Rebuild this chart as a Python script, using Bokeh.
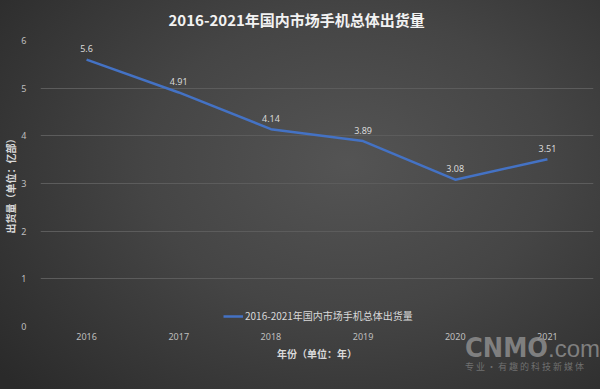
from bokeh.plotting import figure
from bokeh.models import (FactorRange, Range1d, ColumnDataSource, LabelSet,
                          Legend, LegendItem)
from bokeh.embed import file_html
from bokeh.resources import INLINE
from bokeh.core.properties import value

# ---- data ----
years = ["2016", "2017", "2018", "2019", "2020", "2021"]
shipments = [5.6, 4.91, 4.14, 3.89, 3.08, 3.51]
value_labels = ["5.6", "4.91", "4.14", "3.89", "3.08", "3.51"]
y_ticks = [0, 1, 2, 3, 4, 5, 6]
title_text = "2016-2021年国内市场手机总体出货量"
series_name = "2016-2021年国内市场手机总体出货量"
x_label = "年份（单位：年）"
y_label = "出货量（单位：亿部）"
wm_main = "CNMO"
wm_dom = ".com"
wm_sub = "专业·有趣的科技新媒体"

CJK = "Noto Sans CJK SC"
LAT = "Noto Sans"

src = ColumnDataSource(dict(year=years, value=shipments, label=value_labels))

p = figure(width=600, height=389,
           x_range=FactorRange(*years, range_padding=0),
           y_range=Range1d(0, 6),
           output_backend="svg", toolbar_location=None,
           min_border_left=38, min_border_right=7,
           min_border_top=39, min_border_bottom=63)

p.background_fill_alpha = 0
p.border_fill_alpha = 0
p.outline_line_color = None

# title
p.title.text = title_text
p.title.text_font = CJK
p.title.text_font_size = "15px"
p.title.text_font_style = "bold"
p.title.text_color = "#f2f2f2"
p.title.align = "left"
p.title.vertical_align = "top"
p.title.offset = 128
p.title.standoff = 17

# axes
p.yaxis.ticker = y_ticks
for ax in (p.xaxis[0], p.yaxis[0]):
    ax.axis_line_color = None
    ax.major_tick_line_color = None
    ax.minor_tick_line_color = None
    ax.major_label_text_font = LAT
    ax.major_label_text_font_size = "9px"
    ax.major_label_text_color = "#bfbfbf"
    ax.axis_label_text_font = CJK
    ax.axis_label_text_font_size = "10px"
    ax.axis_label_text_font_style = "bold"
    ax.axis_label_text_color = "#d9d9d9"
p.xaxis.major_label_standoff = 0
p.xaxis.axis_label_standoff = 3
p.yaxis.major_label_standoff = 8
p.yaxis.axis_label_standoff = 0
p.xaxis.axis_label = x_label
p.yaxis.axis_label = y_label

p.xgrid.grid_line_color = None
p.ygrid.grid_line_color = "#5c5c5c"
p.ygrid.grid_line_width = 1

# line
r = p.line(x="year", y="value", source=src, line_color="#4472c4", line_width=2.5)

# data labels
labels = LabelSet(x="year", y="value", text="label", source=src,
                  text_align="center", text_baseline="middle", y_offset=11,
                  text_font=value(LAT), text_font_size="9px", text_color="#d9d9d9")
p.add_layout(labels)

# legend
legend = Legend(items=[LegendItem(label=series_name, renderers=[r])],
                location=(183, 3), orientation="horizontal",
                background_fill_alpha=0, border_line_color=None,
                label_text_font=CJK, label_text_font_size="10px",
                label_text_color="#d9d9d9", glyph_width=20, glyph_height=10,
                label_height=10, padding=0, margin=0, label_standoff=2)
p.add_layout(legend)

html = file_html(p, INLINE, title=title_text)

# page background and the site watermark
css = ("<style>html{min-height:100%;background:radial-gradient(ellipse 75% 85% at 58% 42%,"
       " #545454 0%, #454545 45%, #2a2a2a 100%);}body{background:transparent;}</style>")
wm_block = (
    "<div style=\"position:absolute;left:465px;top:335px;color:#8c8c8c;opacity:0.85;"
    "white-space:nowrap;pointer-events:none;\">"
    "<div style=\"height:26px;line-height:26px;\">"
    "<span style=\"font-family:'Liberation Sans Narrow','DejaVu Sans Condensed',sans-serif;"
    "font-weight:bold;font-size:27px;\">" + wm_main + "</span>"
    "<span style=\"font-family:'Liberation Sans',Arial,sans-serif;font-size:24px;\">"
    + wm_dom + "</span></div>"
    "<div style=\"margin-top:1px;line-height:10px;font-family:'Noto Sans CJK SC',sans-serif;"
    "font-size:9px;letter-spacing:2px;color:#7a7a7a;\">" + wm_sub + "</div></div>"
)
html = html.replace("</head>", css + "</head>", 1)
html = html.replace("</body>", wm_block + "</body>", 1)
with open("out.html", "w", encoding="utf-8") as f:
    f.write(html)
